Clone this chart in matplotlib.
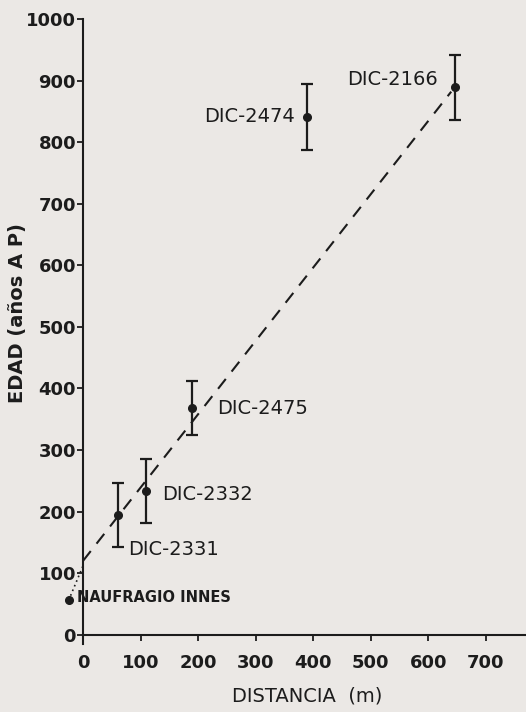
import matplotlib
matplotlib.use("Agg")
import matplotlib.pyplot as plt

# Data
samples = ["NAUFRAGIO INNES", "DIC-2331", "DIC-2332", "DIC-2475", "DIC-2474", "DIC-2166"]
distance = [-25, 61, 109, 189, 390, 647]
age = [56, 195, 233, 368, 841, 889]
age_err = [0, 52, 52, 44, 53, 53]

fit_x = [0, 640]
fit_y = [120, 882]
link_x = [-25, 0]
link_y = [56, 112]

xticks = [0, 100, 200, 300, 400, 500, 600, 700]
yticks = [0, 100, 200, 300, 400, 500, 600, 700, 800, 900, 1000]

bg = "#ebe8e5"
ink = "#1c1c1c"

fig = plt.figure(figsize=(5.26, 7.12), dpi=100, facecolor=bg)
ax = fig.add_axes([0.1046, 0.0955, 0.8954, 0.8778], facecolor=bg)

ax.set_xlim(-48.7, 770)
ax.set_ylim(-15, 1000)

# fit line and dotted link
ax.plot(fit_x, fit_y, ls=(0, (6, 4.5)), color=ink, lw=1.5)
ax.plot(link_x, link_y, ls=(0, (1, 2)), color=ink, lw=1.2)

# data with error bars
for xv, yv, e in zip(distance, age, age_err):
    if e > 0:
        ax.errorbar(xv, yv, yerr=e, fmt="o", color=ink, ms=5.5, elinewidth=1.6,
                    capsize=4.3, capthick=1.6)
    else:
        ax.plot(xv, yv, "o", color=ink, ms=5.5)

# annotations
font = dict(family="DejaVu Sans", color=ink)
ax.text(617, 902, samples[5], ha="right", va="center", fontsize=14, **font)
ax.text(369, 842, samples[4], ha="right", va="center", fontsize=14, **font)
ax.text(233, 367, samples[3], ha="left", va="center", fontsize=14, **font)
ax.text(137, 227, samples[2], ha="left", va="center", fontsize=14, **font)
ax.text(78, 138, samples[1], ha="left", va="center", fontsize=14, **font)
ax.text(-10, 60, samples[0], ha="left", va="center", fontsize=10.5,
        fontweight="bold", **font)

# spines
for s in ["top", "right"]:
    ax.spines[s].set_visible(False)
ax.spines["left"].set_position(("data", 0))
ax.spines["bottom"].set_position(("data", 0))
ax.spines["left"].set_bounds(-15, 1000)
ax.spines["bottom"].set_bounds(0, 770)
for s in ["left", "bottom"]:
    ax.spines[s].set_color(ink)
    ax.spines[s].set_linewidth(1.5)

ax.set_xticks(xticks)
ax.set_yticks(yticks)
ax.tick_params(axis="both", colors=ink, width=1.3, length=4, labelsize=13)
ax.tick_params(axis="x", direction="out", pad=10)
ax.tick_params(axis="y", direction="out", pad=1)
for lab in ax.get_xticklabels() + ax.get_yticklabels():
    lab.set_fontweight("bold")
    lab.set_family("DejaVu Sans")

fig.text(0.034, 0.560, "EDAD (años A P)", rotation=90, ha="center", va="center",
         fontsize=14, fontweight="bold", color=ink, family="DejaVu Sans")
fig.text(0.584, 0.022, "DISTANCIA  (m)", ha="center", va="center",
         fontsize=14, color=ink, family="DejaVu Sans")

fig.savefig("out.png", dpi=100, facecolor=bg)
